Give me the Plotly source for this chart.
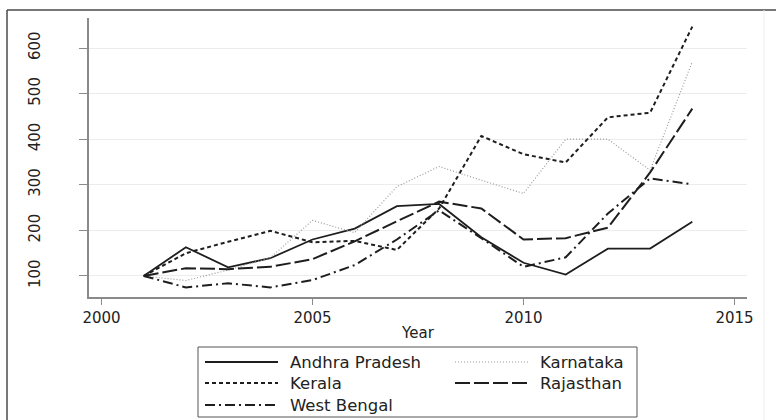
import plotly.graph_objects as go

# Index values by state, 2001 = 100
years = list(range(2001, 2015))

andhra_pradesh = [100, 163, 119, 139, 180, 204, 253, 258, 185, 129, 103, 160, 160, 219]
kerala = [100, 150, 175, 199, 174, 177, 157, 248, 407, 367, 349, 448, 458, 647]
karnataka = [100, 90, 113, 140, 222, 195, 296, 340, 310, 281, 400, 400, 332, 570]
rajasthan = [100, 117, 115, 120, 137, 176, 220, 263, 248, 180, 183, 206, 327, 467]
west_bengal = [100, 75, 84, 75, 91, 124, 180, 244, 183, 120, 141, 237, 314, 301]

x_ticks = [2000, 2005, 2010, 2015]
y_ticks = [100, 200, 300, 400, 500, 600]

DARK = "#1e1e1e"
series = [
    ("Andhra Pradesh", andhra_pradesh, dict(color=DARK, width=1.8, dash="solid")),
    ("Kerala", kerala, dict(color=DARK, width=2.0, dash="4px,3px")),
    ("Karnataka", karnataka, dict(color="#9a9a9a", width=1.2, dash="1px,2px")),
    ("Rajasthan", rajasthan, dict(color=DARK, width=2.0, dash="15px,4px")),
    ("West Bengal", west_bengal, dict(color=DARK, width=2.0, dash="10px,4px,2px,4px")),
]

W, H = 776, 420
L, R, T, B = 89, 747, 18, 297  # plot area edges in pixels

fig = go.Figure()
for name, vals, line in series:
    fig.add_trace(go.Scatter(x=years, y=vals, mode="lines", name=name,
                             line=line, showlegend=False))

FONT = "DejaVu Sans"

fig.update_layout(
    width=W, height=H,
    margin=dict(l=L, r=W - R, t=T, b=H - B, pad=0),
    paper_bgcolor="white", plot_bgcolor="white",
    font=dict(family=FONT, size=15, color="#222222"),
    xaxis=dict(
        range=[1999.704, 2015.296], tickvals=x_ticks, showgrid=False, zeroline=False,
        showline=True, linecolor="#8a8a8a", linewidth=1.5,
        ticks="outside", ticklen=6, tickcolor="#8a8a8a", tickwidth=1,
        tickfont=dict(size=15), title=dict(text="Year", font=dict(size=15), standoff=2),
    ),
    yaxis=dict(
        range=[53.9, 665.8], tickvals=y_ticks, showgrid=True, gridcolor="#ececec", gridwidth=1,
        zeroline=False, showline=True, linecolor="#8a8a8a", linewidth=1.5,
        ticks="outside", ticklen=8, tickcolor="#8a8a8a", tickwidth=1,
        tickangle=-90, tickfont=dict(size=15), ticklabelstandoff=33,
    ),
)


def px(x):
    return (x - L) / (R - L)


def py(y):
    return (B - y) / (B - T)


shapes = []
# outer frame: left and top edges, faint right edge
shapes.append(dict(type="line", xref="paper", yref="paper", x0=px(7), x1=px(7), y0=py(10), y1=py(H + 2),
                   line=dict(color="#4a4a4a", width=1.5)))
shapes.append(dict(type="line", xref="paper", yref="paper", x0=px(7), x1=px(W + 2), y0=py(10), y1=py(10),
                   line=dict(color="#4a4a4a", width=1.5)))
shapes.append(dict(type="line", xref="paper", yref="paper", x0=px(764), x1=px(764), y0=py(10), y1=py(H + 2),
                   line=dict(color="#f0f0f0", width=1)))

# legend box
shapes.append(dict(type="rect", xref="paper", yref="paper", x0=px(198), x1=px(637), y0=py(417), y1=py(347),
                   line=dict(color="#555555", width=1), fillcolor="rgba(0,0,0,0)"))

legend_slots = {
    "Andhra Pradesh": (205, 362),
    "Karnataka": (455, 362),
    "Kerala": (205, 383),
    "Rajasthan": (455, 383),
    "West Bengal": (205, 405),
}
annotations = []
for name, vals, line in series:
    lx, ly = legend_slots[name]
    shapes.append(dict(type="line", xref="paper", yref="paper", x0=px(lx), x1=px(lx + 73),
                       y0=py(ly), y1=py(ly), line=line))
    annotations.append(dict(text=name, xref="paper", yref="paper", x=px(lx + 83), y=py(ly),
                            xanchor="left", yanchor="middle", showarrow=False,
                            font=dict(family=FONT, size=16.5, color="#222222")))

fig.update_layout(shapes=shapes, annotations=annotations)
fig.write_html("out.html")
